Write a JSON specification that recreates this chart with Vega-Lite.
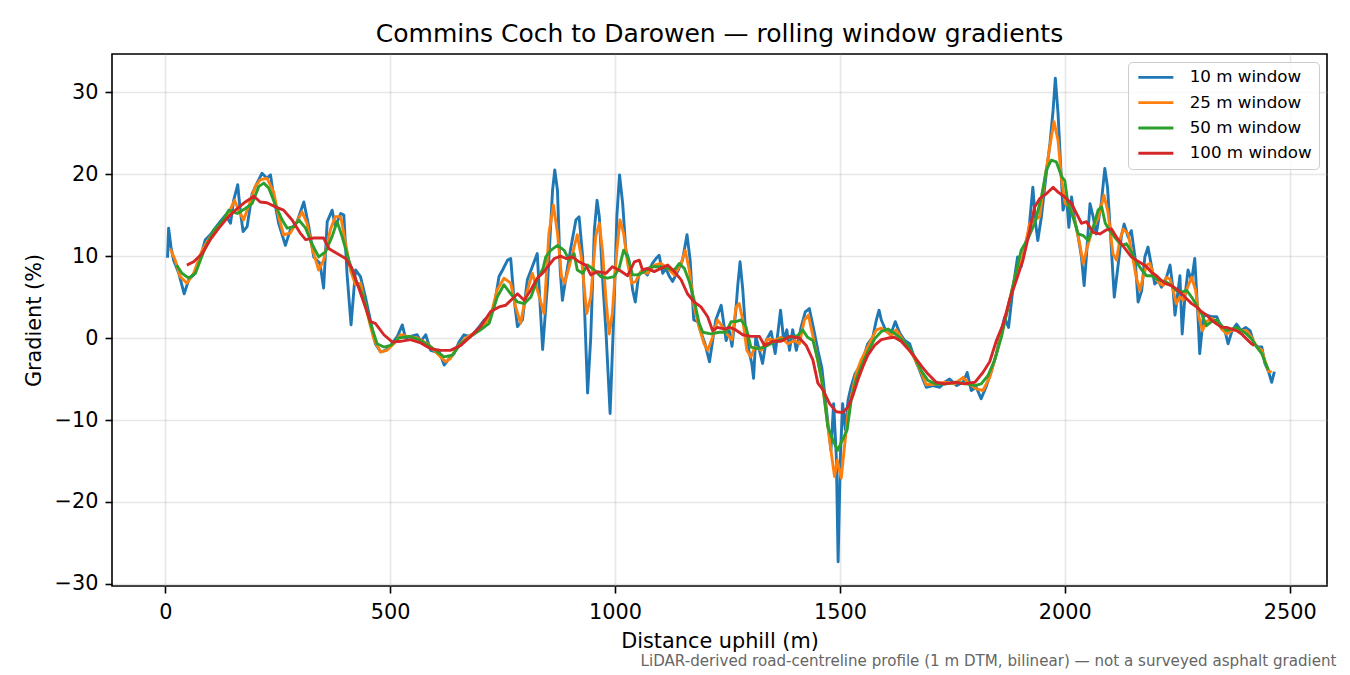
{
"$schema": "https://vega.github.io/schema/vega-lite/v6.json",
"width": 1215, "height": 532,
"autosize": {"type": "none"},
"padding": {"left": 112, "top": 54, "right": 23, "bottom": 89},
"background": "white",
"config": {
 "font": "DejaVu Sans",
 "view": {"stroke": "#000000", "strokeWidth": 1.6},
 "legend": {"orient": "top-right", "offset": 8, "symbolType": "M-1,0H6", "symbolSize": 100, "symbolStrokeWidth": 2.9, "labelFontSize": 16.7, "labelFont": "DejaVu Sans", "labelColor": "#000000", "labelOffset": 38, "rowPadding": 7.3, "padding": 7, "strokeColor": "#cccccc", "fillColor": "rgba(255,255,255,0.8)", "cornerRadius": 4}
},
"title": {"text": "Commins Coch to Darowen — rolling window gradients", "fontSize": 25, "fontWeight": "normal", "font": "DejaVu Sans", "color": "#000000", "anchor": "middle", "frame": "group", "baseline": "alphabetic", "offset": -13}
,
"data": {"values": [
{"w":"10 m window","d":5,"g":9.8},{"w":"10 m window","d":7.4,"g":13.4},{"w":"10 m window","d":12.6,"g":11.1},{"w":"10 m window","d":18.5,"g":9.5},{"w":"10 m window","d":30,"g":7.9},{"w":"10 m window","d":42,"g":5.4},{"w":"10 m window","d":52,"g":7.1},{"w":"10 m window","d":63,"g":7.7},{"w":"10 m window","d":74,"g":9.1},{"w":"10 m window","d":89,"g":12},{"w":"10 m window","d":100,"g":12.6},{"w":"10 m window","d":111,"g":13.4},{"w":"10 m window","d":122,"g":14.2},{"w":"10 m window","d":134,"g":15},{"w":"10 m window","d":145,"g":14},{"w":"10 m window","d":152,"g":16.8},{"w":"10 m window","d":161,"g":18.7},{"w":"10 m window","d":167,"g":15.4},{"w":"10 m window","d":173,"g":13},{"w":"10 m window","d":182,"g":13.6},{"w":"10 m window","d":193,"g":17.6},{"w":"10 m window","d":204,"g":18.9},{"w":"10 m window","d":215,"g":20.1},{"w":"10 m window","d":226,"g":19.5},{"w":"10 m window","d":234,"g":19.9},{"w":"10 m window","d":241,"g":17.2},{"w":"10 m window","d":252,"g":14},{"w":"10 m window","d":267,"g":11.3},{"w":"10 m window","d":278,"g":13.2},{"w":"10 m window","d":293,"g":14.2},{"w":"10 m window","d":308,"g":16.6},{"w":"10 m window","d":319,"g":13.6},{"w":"10 m window","d":330,"g":9.9},{"w":"10 m window","d":344,"g":9.1},{"w":"10 m window","d":352,"g":6.1},{"w":"10 m window","d":360,"g":14.2},{"w":"10 m window","d":371,"g":15.6},{"w":"10 m window","d":378,"g":13.6},{"w":"10 m window","d":390,"g":15.2},{"w":"10 m window","d":397,"g":15},{"w":"10 m window","d":404,"g":7.9},{"w":"10 m window","d":413,"g":1.6},{"w":"10 m window","d":423,"g":8.3},{"w":"10 m window","d":434,"g":7.5},{"w":"10 m window","d":445,"g":5},{"w":"10 m window","d":456,"g":2.2},{"w":"10 m window","d":467,"g":-0.7},{"w":"10 m window","d":479,"g":-1.7},{"w":"10 m window","d":490,"g":-1.5},{"w":"10 m window","d":501,"g":-0.9},{"w":"10 m window","d":516,"g":0.2},{"w":"10 m window","d":527,"g":1.6},{"w":"10 m window","d":534,"g":0},{"w":"10 m window","d":545,"g":0.2},{"w":"10 m window","d":560,"g":0.4},{"w":"10 m window","d":568,"g":-0.4},{"w":"10 m window","d":579,"g":0.4},{"w":"10 m window","d":590,"g":-1.5},{"w":"10 m window","d":601,"g":-1.7},{"w":"10 m window","d":608,"g":-1.5},{"w":"10 m window","d":620,"g":-3.3},{"w":"10 m window","d":631,"g":-2.5},{"w":"10 m window","d":642,"g":-1.9},{"w":"10 m window","d":653,"g":-0.5},{"w":"10 m window","d":664,"g":0.4},{"w":"10 m window","d":675,"g":0.2},{"w":"10 m window","d":686,"g":0.6},{"w":"10 m window","d":698,"g":1.4},{"w":"10 m window","d":709,"g":2.2},{"w":"10 m window","d":720,"g":2.6},{"w":"10 m window","d":731,"g":3.8},{"w":"10 m window","d":742,"g":7.5},{"w":"10 m window","d":750,"g":8.3},{"w":"10 m window","d":761,"g":9.5},{"w":"10 m window","d":768,"g":9.7},{"w":"10 m window","d":775,"g":5},{"w":"10 m window","d":783,"g":1.4},{"w":"10 m window","d":794,"g":2.2},{"w":"10 m window","d":805,"g":7.1},{"w":"10 m window","d":816,"g":8.7},{"w":"10 m window","d":827,"g":10.3},{"w":"10 m window","d":839,"g":-1.4},{"w":"10 m window","d":850,"g":6.7},{"w":"10 m window","d":861,"g":18},{"w":"10 m window","d":866,"g":20.5},{"w":"10 m window","d":872,"g":18},{"w":"10 m window","d":878,"g":8.3},{"w":"10 m window","d":883,"g":4.6},{"w":"10 m window","d":891,"g":7.5},{"w":"10 m window","d":902,"g":11.1},{"w":"10 m window","d":913,"g":14.4},{"w":"10 m window","d":920,"g":14.8},{"w":"10 m window","d":928,"g":9.9},{"w":"10 m window","d":939,"g":-6.7},{"w":"10 m window","d":946,"g":0.1},{"w":"10 m window","d":954,"g":13.2},{"w":"10 m window","d":960,"g":16.8},{"w":"10 m window","d":965,"g":14.8},{"w":"10 m window","d":972,"g":7.5},{"w":"10 m window","d":980,"g":0.6},{"w":"10 m window","d":989,"g":-9.2},{"w":"10 m window","d":997,"g":2.6},{"w":"10 m window","d":1004,"g":14.8},{"w":"10 m window","d":1010,"g":19.9},{"w":"10 m window","d":1017,"g":16.4},{"w":"10 m window","d":1024,"g":10.7},{"w":"10 m window","d":1031,"g":9.5},{"w":"10 m window","d":1039,"g":5.9},{"w":"10 m window","d":1045,"g":4.4},{"w":"10 m window","d":1052,"g":7.5},{"w":"10 m window","d":1061,"g":8.3},{"w":"10 m window","d":1072,"g":7.7},{"w":"10 m window","d":1083,"g":9.1},{"w":"10 m window","d":1091,"g":9.7},{"w":"10 m window","d":1098,"g":10.1},{"w":"10 m window","d":1106,"g":7.9},{"w":"10 m window","d":1113,"g":8.5},{"w":"10 m window","d":1121,"g":7.5},{"w":"10 m window","d":1128,"g":6.9},{"w":"10 m window","d":1139,"g":8.1},{"w":"10 m window","d":1150,"g":9.5},{"w":"10 m window","d":1160,"g":12.6},{"w":"10 m window","d":1167,"g":9.5},{"w":"10 m window","d":1175,"g":2.2},{"w":"10 m window","d":1184,"g":2},{"w":"10 m window","d":1191,"g":0.7},{"w":"10 m window","d":1200,"g":-0.7},{"w":"10 m window","d":1210,"g":-2.9},{"w":"10 m window","d":1217,"g":-0.3},{"w":"10 m window","d":1224,"g":2.2},{"w":"10 m window","d":1236,"g":4},{"w":"10 m window","d":1247,"g":-0.3},{"w":"10 m window","d":1254,"g":0.9},{"w":"10 m window","d":1260,"g":-1},{"w":"10 m window","d":1268,"g":3},{"w":"10 m window","d":1273,"g":6.5},{"w":"10 m window","d":1278,"g":9.3},{"w":"10 m window","d":1284,"g":5.9},{"w":"10 m window","d":1291,"g":0.2},{"w":"10 m window","d":1299,"g":-1.9},{"w":"10 m window","d":1304,"g":-3.1},{"w":"10 m window","d":1308,"g":-4.9},{"w":"10 m window","d":1313,"g":0.2},{"w":"10 m window","d":1321,"g":-1.5},{"w":"10 m window","d":1328,"g":-3.1},{"w":"10 m window","d":1336,"g":-0.3},{"w":"10 m window","d":1347,"g":0.8},{"w":"10 m window","d":1356,"g":-1.9},{"w":"10 m window","d":1362,"g":0.6},{"w":"10 m window","d":1368,"g":3.4},{"w":"10 m window","d":1375,"g":-0.3},{"w":"10 m window","d":1382,"g":1},{"w":"10 m window","d":1388,"g":-1.5},{"w":"10 m window","d":1395,"g":1},{"w":"10 m window","d":1403,"g":-1.5},{"w":"10 m window","d":1414,"g":1.4},{"w":"10 m window","d":1423,"g":3.2},{"w":"10 m window","d":1432,"g":3.6},{"w":"10 m window","d":1442,"g":1},{"w":"10 m window","d":1451,"g":-1.5},{"w":"10 m window","d":1460,"g":-3.7},{"w":"10 m window","d":1467,"g":-7.2},{"w":"10 m window","d":1475,"g":-11.2},{"w":"10 m window","d":1480,"g":-13.7},{"w":"10 m window","d":1486,"g":-8},{"w":"10 m window","d":1492,"g":-14.5},{"w":"10 m window","d":1496,"g":-27.3},{"w":"10 m window","d":1501,"g":-14.5},{"w":"10 m window","d":1506,"g":-8},{"w":"10 m window","d":1512,"g":-11.2},{"w":"10 m window","d":1518,"g":-7.6},{"w":"10 m window","d":1525,"g":-5.9},{"w":"10 m window","d":1534,"g":-4.3},{"w":"10 m window","d":1544,"g":-3.5},{"w":"10 m window","d":1555,"g":-1.9},{"w":"10 m window","d":1562,"g":-0.7},{"w":"10 m window","d":1573,"g":0.1},{"w":"10 m window","d":1581,"g":2.2},{"w":"10 m window","d":1587,"g":3.4},{"w":"10 m window","d":1592,"g":2.2},{"w":"10 m window","d":1603,"g":0.8},{"w":"10 m window","d":1614,"g":0.6},{"w":"10 m window","d":1623,"g":2},{"w":"10 m window","d":1633,"g":0.6},{"w":"10 m window","d":1644,"g":-0.3},{"w":"10 m window","d":1655,"g":-0.7},{"w":"10 m window","d":1666,"g":-2.5},{"w":"10 m window","d":1677,"g":-3.9},{"w":"10 m window","d":1686,"g":-5.2},{"w":"10 m window","d":1692,"g":-6},{"w":"10 m window","d":1707,"g":-5.8},{"w":"10 m window","d":1722,"g":-6},{"w":"10 m window","d":1733,"g":-5.4},{"w":"10 m window","d":1744,"g":-5},{"w":"10 m window","d":1759,"g":-5.8},{"w":"10 m window","d":1774,"g":-5.4},{"w":"10 m window","d":1783,"g":-4.2},{"w":"10 m window","d":1792,"g":-6.4},{"w":"10 m window","d":1803,"g":-6},{"w":"10 m window","d":1814,"g":-7.4},{"w":"10 m window","d":1826,"g":-5.8},{"w":"10 m window","d":1837,"g":-4},{"w":"10 m window","d":1848,"g":-1.9},{"w":"10 m window","d":1859,"g":0.9},{"w":"10 m window","d":1866,"g":2.5},{"w":"10 m window","d":1875,"g":1.3},{"w":"10 m window","d":1885,"g":6.2},{"w":"10 m window","d":1895,"g":9.9},{"w":"10 m window","d":1903,"g":8.7},{"w":"10 m window","d":1911,"g":11.1},{"w":"10 m window","d":1920,"g":13.1},{"w":"10 m window","d":1929,"g":18.4},{"w":"10 m window","d":1935,"g":14},{"w":"10 m window","d":1940,"g":11.9},{"w":"10 m window","d":1948,"g":14.8},{"w":"10 m window","d":1957,"g":19.2},{"w":"10 m window","d":1967,"g":23.7},{"w":"10 m window","d":1974,"g":27.8},{"w":"10 m window","d":1979,"g":31.7},{"w":"10 m window","d":1985,"g":27.4},{"w":"10 m window","d":1991,"g":20.9},{"w":"10 m window","d":1996,"g":15.6},{"w":"10 m window","d":2004,"g":17.2},{"w":"10 m window","d":2009,"g":13.5},{"w":"10 m window","d":2015,"g":17.2},{"w":"10 m window","d":2022,"g":14.4},{"w":"10 m window","d":2030,"g":12.3},{"w":"10 m window","d":2037,"g":9.9},{"w":"10 m window","d":2043,"g":6.4},{"w":"10 m window","d":2048,"g":9.9},{"w":"10 m window","d":2056,"g":16.4},{"w":"10 m window","d":2063,"g":14.8},{"w":"10 m window","d":2070,"g":12.7},{"w":"10 m window","d":2081,"g":16.4},{"w":"10 m window","d":2089,"g":20.7},{"w":"10 m window","d":2095,"g":18.4},{"w":"10 m window","d":2102,"g":12.3},{"w":"10 m window","d":2110,"g":5},{"w":"10 m window","d":2119,"g":9.1},{"w":"10 m window","d":2126,"g":12.5},{"w":"10 m window","d":2132,"g":13.9},{"w":"10 m window","d":2141,"g":12.3},{"w":"10 m window","d":2148,"g":13.1},{"w":"10 m window","d":2156,"g":9.9},{"w":"10 m window","d":2163,"g":4.4},{"w":"10 m window","d":2171,"g":5.8},{"w":"10 m window","d":2178,"g":9.9},{"w":"10 m window","d":2185,"g":11.1},{"w":"10 m window","d":2193,"g":8.7},{"w":"10 m window","d":2200,"g":6.6},{"w":"10 m window","d":2208,"g":7},{"w":"10 m window","d":2215,"g":6.2},{"w":"10 m window","d":2226,"g":7.4},{"w":"10 m window","d":2234,"g":8.9},{"w":"10 m window","d":2241,"g":5.8},{"w":"10 m window","d":2245,"g":2.8},{"w":"10 m window","d":2251,"g":5.4},{"w":"10 m window","d":2256,"g":7.6},{"w":"10 m window","d":2261,"g":0.5},{"w":"10 m window","d":2267,"g":5},{"w":"10 m window","d":2274,"g":8.3},{"w":"10 m window","d":2282,"g":7},{"w":"10 m window","d":2289,"g":9.7},{"w":"10 m window","d":2297,"g":1.7},{"w":"10 m window","d":2300,"g":-1.9},{"w":"10 m window","d":2308,"g":2.6},{"w":"10 m window","d":2315,"g":2.8},{"w":"10 m window","d":2326,"g":2.6},{"w":"10 m window","d":2338,"g":2.6},{"w":"10 m window","d":2349,"g":1.1},{"w":"10 m window","d":2356,"g":0.9},{"w":"10 m window","d":2363,"g":-0.7},{"w":"10 m window","d":2372,"g":0.9},{"w":"10 m window","d":2382,"g":1.7},{"w":"10 m window","d":2392,"g":0.9},{"w":"10 m window","d":2402,"g":1.3},{"w":"10 m window","d":2412,"g":0.9},{"w":"10 m window","d":2421,"g":-0.7},{"w":"10 m window","d":2430,"g":-1.1},{"w":"10 m window","d":2438,"g":-1.1},{"w":"10 m window","d":2445,"g":-3.1},{"w":"10 m window","d":2453,"g":-4.1},{"w":"10 m window","d":2460,"g":-5.4},{"w":"10 m window","d":2466,"g":-4.1},
{"w":"25 m window","d":11,"g":10.9},{"w":"25 m window","d":22,"g":9.5},{"w":"25 m window","d":33,"g":7.5},{"w":"25 m window","d":48,"g":6.7},{"w":"25 m window","d":63,"g":7.9},{"w":"25 m window","d":82,"g":10.7},{"w":"25 m window","d":100,"g":12.4},{"w":"25 m window","d":119,"g":13.6},{"w":"25 m window","d":137,"g":14.8},{"w":"25 m window","d":154,"g":16.8},{"w":"25 m window","d":163,"g":15.6},{"w":"25 m window","d":174,"g":14.4},{"w":"25 m window","d":186,"g":16.2},{"w":"25 m window","d":200,"g":18.5},{"w":"25 m window","d":211,"g":19.3},{"w":"25 m window","d":226,"g":19.5},{"w":"25 m window","d":241,"g":17.8},{"w":"25 m window","d":252,"g":14.8},{"w":"25 m window","d":263,"g":12.6},{"w":"25 m window","d":278,"g":12.8},{"w":"25 m window","d":293,"g":14.2},{"w":"25 m window","d":304,"g":15.4},{"w":"25 m window","d":315,"g":14},{"w":"25 m window","d":326,"g":11.1},{"w":"25 m window","d":341,"g":8.3},{"w":"25 m window","d":352,"g":9.5},{"w":"25 m window","d":367,"g":13.2},{"w":"25 m window","d":378,"g":14.8},{"w":"25 m window","d":390,"g":14.8},{"w":"25 m window","d":401,"g":11.5},{"w":"25 m window","d":412,"g":8.2},{"w":"25 m window","d":423,"g":6.5},{"w":"25 m window","d":434,"g":6.7},{"w":"25 m window","d":449,"g":3},{"w":"25 m window","d":464,"g":-0.2},{"w":"25 m window","d":479,"g":-1.7},{"w":"25 m window","d":493,"g":-1.5},{"w":"25 m window","d":508,"g":-0.7},{"w":"25 m window","d":523,"g":0.4},{"w":"25 m window","d":538,"g":0.2},{"w":"25 m window","d":560,"g":0},{"w":"25 m window","d":583,"g":-0.7},{"w":"25 m window","d":605,"g":-1.9},{"w":"25 m window","d":623,"g":-2.9},{"w":"25 m window","d":634,"g":-2.5},{"w":"25 m window","d":649,"g":-1.1},{"w":"25 m window","d":668,"g":0},{"w":"25 m window","d":686,"g":0.6},{"w":"25 m window","d":705,"g":1.4},{"w":"25 m window","d":723,"g":2.6},{"w":"25 m window","d":738,"g":5.9},{"w":"25 m window","d":753,"g":7.3},{"w":"25 m window","d":768,"g":6.7},{"w":"25 m window","d":779,"g":3.8},{"w":"25 m window","d":790,"g":1.8},{"w":"25 m window","d":801,"g":5},{"w":"25 m window","d":816,"g":7.9},{"w":"25 m window","d":827,"g":5.9},{"w":"25 m window","d":842,"g":3},{"w":"25 m window","d":853,"g":12.8},{"w":"25 m window","d":863,"g":16.2},{"w":"25 m window","d":872,"g":12.8},{"w":"25 m window","d":881,"g":7.5},{"w":"25 m window","d":888,"g":6.7},{"w":"25 m window","d":898,"g":8.7},{"w":"25 m window","d":909,"g":11.1},{"w":"25 m window","d":916,"g":12.6},{"w":"25 m window","d":925,"g":9.9},{"w":"25 m window","d":937,"g":3},{"w":"25 m window","d":946,"g":5},{"w":"25 m window","d":957,"g":12.4},{"w":"25 m window","d":965,"g":14},{"w":"25 m window","d":972,"g":10.7},{"w":"25 m window","d":980,"g":4.6},{"w":"25 m window","d":987,"g":0.5},{"w":"25 m window","d":994,"g":3},{"w":"25 m window","d":1004,"g":10.7},{"w":"25 m window","d":1011,"g":14.4},{"w":"25 m window","d":1019,"g":12.8},{"w":"25 m window","d":1028,"g":9.1},{"w":"25 m window","d":1037,"g":6.7},{"w":"25 m window","d":1046,"g":6.9},{"w":"25 m window","d":1057,"g":8.1},{"w":"25 m window","d":1072,"g":7.9},{"w":"25 m window","d":1087,"g":8.9},{"w":"25 m window","d":1102,"g":9.1},{"w":"25 m window","d":1117,"g":8.5},{"w":"25 m window","d":1132,"g":7.7},{"w":"25 m window","d":1147,"g":9.1},{"w":"25 m window","d":1156,"g":10.7},{"w":"25 m window","d":1165,"g":8.3},{"w":"25 m window","d":1176,"g":3.8},{"w":"25 m window","d":1187,"g":1.3},{"w":"25 m window","d":1198,"g":-0.7},{"w":"25 m window","d":1206,"g":-1.5},{"w":"25 m window","d":1217,"g":0.1},{"w":"25 m window","d":1228,"g":2.2},{"w":"25 m window","d":1239,"g":1.4},{"w":"25 m window","d":1250,"g":0.4},{"w":"25 m window","d":1260,"g":-0.2},{"w":"25 m window","d":1269,"g":3.8},{"w":"25 m window","d":1276,"g":4.2},{"w":"25 m window","d":1284,"g":2.2},{"w":"25 m window","d":1293,"g":-1.5},{"w":"25 m window","d":1302,"g":-2.3},{"w":"25 m window","d":1311,"g":-1.1},{"w":"25 m window","d":1325,"g":-1.5},{"w":"25 m window","d":1339,"g":-0.1},{"w":"25 m window","d":1354,"g":-0.3},{"w":"25 m window","d":1369,"g":0.1},{"w":"25 m window","d":1384,"g":-0.7},{"w":"25 m window","d":1399,"g":-0.3},{"w":"25 m window","d":1410,"g":-0.7},{"w":"25 m window","d":1421,"g":2.2},{"w":"25 m window","d":1430,"g":2.8},{"w":"25 m window","d":1440,"g":0.2},{"w":"25 m window","d":1449,"g":-2.3},{"w":"25 m window","d":1458,"g":-4.7},{"w":"25 m window","d":1467,"g":-8},{"w":"25 m window","d":1475,"g":-11.6},{"w":"25 m window","d":1482,"g":-14.5},{"w":"25 m window","d":1488,"g":-16.9},{"w":"25 m window","d":1494,"g":-14.9},{"w":"25 m window","d":1503,"g":-17.1},{"w":"25 m window","d":1510,"g":-13.3},{"w":"25 m window","d":1518,"g":-9.2},{"w":"25 m window","d":1525,"g":-7.2},{"w":"25 m window","d":1536,"g":-4.3},{"w":"25 m window","d":1547,"g":-2.7},{"w":"25 m window","d":1558,"g":-1.5},{"w":"25 m window","d":1570,"g":-0.2},{"w":"25 m window","d":1581,"g":1},{"w":"25 m window","d":1592,"g":1.2},{"w":"25 m window","d":1603,"g":0.8},{"w":"25 m window","d":1614,"g":0.3},{"w":"25 m window","d":1625,"g":1},{"w":"25 m window","d":1636,"g":0.1},{"w":"25 m window","d":1651,"g":-1.1},{"w":"25 m window","d":1666,"g":-2.5},{"w":"25 m window","d":1681,"g":-4.2},{"w":"25 m window","d":1692,"g":-5.7},{"w":"25 m window","d":1714,"g":-5.6},{"w":"25 m window","d":1733,"g":-5.4},{"w":"25 m window","d":1755,"g":-5.6},{"w":"25 m window","d":1774,"g":-4.8},{"w":"25 m window","d":1788,"g":-5.6},{"w":"25 m window","d":1803,"g":-6.2},{"w":"25 m window","d":1818,"g":-6.4},{"w":"25 m window","d":1833,"g":-4.8},{"w":"25 m window","d":1848,"g":-1.9},{"w":"25 m window","d":1863,"g":1.3},{"w":"25 m window","d":1877,"g":4.6},{"w":"25 m window","d":1892,"g":8},{"w":"25 m window","d":1907,"g":9.9},{"w":"25 m window","d":1922,"g":14},{"w":"25 m window","d":1933,"g":14.4},{"w":"25 m window","d":1944,"g":14.8},{"w":"25 m window","d":1955,"g":19.2},{"w":"25 m window","d":1967,"g":23.5},{"w":"25 m window","d":1976,"g":26.4},{"w":"25 m window","d":1985,"g":24.1},{"w":"25 m window","d":1993,"g":19.2},{"w":"25 m window","d":2001,"g":16.4},{"w":"25 m window","d":2011,"g":16},{"w":"25 m window","d":2022,"g":14.4},{"w":"25 m window","d":2033,"g":11.5},{"w":"25 m window","d":2041,"g":9.1},{"w":"25 m window","d":2052,"g":11.5},{"w":"25 m window","d":2063,"g":13.5},{"w":"25 m window","d":2074,"g":14.6},{"w":"25 m window","d":2087,"g":17.4},{"w":"25 m window","d":2096,"g":15.4},{"w":"25 m window","d":2107,"g":10.3},{"w":"25 m window","d":2115,"g":9.5},{"w":"25 m window","d":2122,"g":11.9},{"w":"25 m window","d":2130,"g":13.3},{"w":"25 m window","d":2141,"g":12.7},{"w":"25 m window","d":2148,"g":10.7},{"w":"25 m window","d":2159,"g":7.4},{"w":"25 m window","d":2167,"g":5.8},{"w":"25 m window","d":2174,"g":7.4},{"w":"25 m window","d":2182,"g":8.9},{"w":"25 m window","d":2189,"g":9.1},{"w":"25 m window","d":2197,"g":7.8},{"w":"25 m window","d":2208,"g":6.8},{"w":"25 m window","d":2219,"g":6.4},{"w":"25 m window","d":2226,"g":7.4},{"w":"25 m window","d":2234,"g":7.2},{"w":"25 m window","d":2241,"g":5.8},{"w":"25 m window","d":2248,"g":4.2},{"w":"25 m window","d":2256,"g":5},{"w":"25 m window","d":2263,"g":4.6},{"w":"25 m window","d":2273,"g":6.2},{"w":"25 m window","d":2282,"g":7.4},{"w":"25 m window","d":2291,"g":5.8},{"w":"25 m window","d":2298,"g":2.6},{"w":"25 m window","d":2306,"g":0.9},{"w":"25 m window","d":2315,"g":2},{"w":"25 m window","d":2326,"g":2.4},{"w":"25 m window","d":2338,"g":2},{"w":"25 m window","d":2349,"g":1.1},{"w":"25 m window","d":2360,"g":0.5},{"w":"25 m window","d":2371,"g":0.9},{"w":"25 m window","d":2382,"g":1.1},{"w":"25 m window","d":2393,"g":0.9},{"w":"25 m window","d":2404,"g":0.9},{"w":"25 m window","d":2415,"g":0.1},{"w":"25 m window","d":2427,"g":-1.1},{"w":"25 m window","d":2438,"g":-1.5},{"w":"25 m window","d":2447,"g":-3.1},{"w":"25 m window","d":2453,"g":-4.1},{"w":"25 m window","d":2460,"g":-4.1},
{"w":"50 m window","d":25,"g":8.9},{"w":"50 m window","d":37,"g":7.9},{"w":"50 m window","d":52,"g":7.3},{"w":"50 m window","d":67,"g":7.9},{"w":"50 m window","d":85,"g":10.5},{"w":"50 m window","d":108,"g":13.2},{"w":"50 m window","d":126,"g":14.2},{"w":"50 m window","d":141,"g":15.6},{"w":"50 m window","d":160,"g":15.2},{"w":"50 m window","d":178,"g":15.8},{"w":"50 m window","d":193,"g":16.4},{"w":"50 m window","d":208,"g":18.5},{"w":"50 m window","d":219,"g":18.9},{"w":"50 m window","d":230,"g":18.3},{"w":"50 m window","d":245,"g":16.2},{"w":"50 m window","d":260,"g":14.4},{"w":"50 m window","d":271,"g":13.4},{"w":"50 m window","d":286,"g":13.6},{"w":"50 m window","d":297,"g":14.4},{"w":"50 m window","d":312,"g":13.4},{"w":"50 m window","d":326,"g":11.5},{"w":"50 m window","d":341,"g":9.9},{"w":"50 m window","d":356,"g":10.5},{"w":"50 m window","d":371,"g":12.4},{"w":"50 m window","d":382,"g":14.2},{"w":"50 m window","d":393,"g":12.4},{"w":"50 m window","d":408,"g":9.5},{"w":"50 m window","d":423,"g":7.1},{"w":"50 m window","d":441,"g":5},{"w":"50 m window","d":456,"g":1.8},{"w":"50 m window","d":471,"g":-0.7},{"w":"50 m window","d":486,"g":-1.1},{"w":"50 m window","d":501,"g":-0.9},{"w":"50 m window","d":519,"g":0},{"w":"50 m window","d":542,"g":0.2},{"w":"50 m window","d":564,"g":-0.2},{"w":"50 m window","d":586,"g":-0.9},{"w":"50 m window","d":605,"g":-1.7},{"w":"50 m window","d":620,"g":-2.3},{"w":"50 m window","d":638,"g":-2.1},{"w":"50 m window","d":657,"g":-0.7},{"w":"50 m window","d":679,"g":0.2},{"w":"50 m window","d":701,"g":1},{"w":"50 m window","d":720,"g":1.8},{"w":"50 m window","d":738,"g":5},{"w":"50 m window","d":753,"g":6.5},{"w":"50 m window","d":768,"g":5.4},{"w":"50 m window","d":783,"g":4.4},{"w":"50 m window","d":798,"g":4.2},{"w":"50 m window","d":813,"g":5},{"w":"50 m window","d":827,"g":7.1},{"w":"50 m window","d":840,"g":8.5},{"w":"50 m window","d":846,"g":9.9},{"w":"50 m window","d":857,"g":10.7},{"w":"50 m window","d":872,"g":11.3},{"w":"50 m window","d":887,"g":10.7},{"w":"50 m window","d":898,"g":9.5},{"w":"50 m window","d":909,"g":10.3},{"w":"50 m window","d":916,"g":8.3},{"w":"50 m window","d":928,"g":7.9},{"w":"50 m window","d":939,"g":8.9},{"w":"50 m window","d":954,"g":8.3},{"w":"50 m window","d":968,"g":7.5},{"w":"50 m window","d":983,"g":7.3},{"w":"50 m window","d":998,"g":7.5},{"w":"50 m window","d":1009,"g":8.5},{"w":"50 m window","d":1019,"g":10.7},{"w":"50 m window","d":1028,"g":9.9},{"w":"50 m window","d":1039,"g":7.7},{"w":"50 m window","d":1050,"g":7.7},{"w":"50 m window","d":1065,"g":8.1},{"w":"50 m window","d":1080,"g":8.7},{"w":"50 m window","d":1098,"g":8.7},{"w":"50 m window","d":1117,"g":8.5},{"w":"50 m window","d":1132,"g":8.3},{"w":"50 m window","d":1143,"g":9.1},{"w":"50 m window","d":1154,"g":8.5},{"w":"50 m window","d":1165,"g":6.9},{"w":"50 m window","d":1176,"g":4.6},{"w":"50 m window","d":1187,"g":1.8},{"w":"50 m window","d":1195,"g":0.7},{"w":"50 m window","d":1213,"g":0.5},{"w":"50 m window","d":1232,"g":0.7},{"w":"50 m window","d":1247,"g":0.7},{"w":"50 m window","d":1258,"g":2},{"w":"50 m window","d":1269,"g":2},{"w":"50 m window","d":1280,"g":2.2},{"w":"50 m window","d":1291,"g":1.4},{"w":"50 m window","d":1302,"g":-1.1},{"w":"50 m window","d":1317,"g":-1.3},{"w":"50 m window","d":1332,"g":-1.1},{"w":"50 m window","d":1347,"g":-0.7},{"w":"50 m window","d":1362,"g":-0.3},{"w":"50 m window","d":1377,"g":-0.1},{"w":"50 m window","d":1391,"g":0.1},{"w":"50 m window","d":1406,"g":0.3},{"w":"50 m window","d":1417,"g":1},{"w":"50 m window","d":1428,"g":0.1},{"w":"50 m window","d":1440,"g":-0.3},{"w":"50 m window","d":1451,"g":-2.7},{"w":"50 m window","d":1462,"g":-5.9},{"w":"50 m window","d":1473,"g":-10.8},{"w":"50 m window","d":1484,"g":-12.4},{"w":"50 m window","d":1495,"g":-13.7},{"w":"50 m window","d":1506,"g":-12.4},{"w":"50 m window","d":1516,"g":-11.2},{"w":"50 m window","d":1525,"g":-7.6},{"w":"50 m window","d":1536,"g":-5.1},{"w":"50 m window","d":1547,"g":-3.5},{"w":"50 m window","d":1562,"g":-1.7},{"w":"50 m window","d":1577,"g":-0.1},{"w":"50 m window","d":1592,"g":0.8},{"w":"50 m window","d":1607,"g":1.1},{"w":"50 m window","d":1621,"g":0.6},{"w":"50 m window","d":1636,"g":-0.1},{"w":"50 m window","d":1651,"g":-0.9},{"w":"50 m window","d":1666,"g":-2.3},{"w":"50 m window","d":1681,"g":-4},{"w":"50 m window","d":1696,"g":-5.2},{"w":"50 m window","d":1714,"g":-5.6},{"w":"50 m window","d":1736,"g":-5.6},{"w":"50 m window","d":1759,"g":-5.4},{"w":"50 m window","d":1781,"g":-5.6},{"w":"50 m window","d":1800,"g":-5.8},{"w":"50 m window","d":1814,"g":-5.6},{"w":"50 m window","d":1829,"g":-4.6},{"w":"50 m window","d":1844,"g":-2.7},{"w":"50 m window","d":1859,"g":0.1},{"w":"50 m window","d":1874,"g":3.8},{"w":"50 m window","d":1889,"g":7.4},{"w":"50 m window","d":1903,"g":10.7},{"w":"50 m window","d":1918,"g":12.1},{"w":"50 m window","d":1933,"g":14},{"w":"50 m window","d":1948,"g":17.2},{"w":"50 m window","d":1959,"g":20.5},{"w":"50 m window","d":1970,"g":21.7},{"w":"50 m window","d":1981,"g":21.5},{"w":"50 m window","d":1993,"g":19.7},{"w":"50 m window","d":2000,"g":19.2},{"w":"50 m window","d":2007,"g":16.4},{"w":"50 m window","d":2018,"g":14.8},{"w":"50 m window","d":2030,"g":12.7},{"w":"50 m window","d":2041,"g":12.5},{"w":"50 m window","d":2052,"g":11.9},{"w":"50 m window","d":2063,"g":13.5},{"w":"50 m window","d":2074,"g":15.6},{"w":"50 m window","d":2082,"g":16},{"w":"50 m window","d":2090,"g":14},{"w":"50 m window","d":2100,"g":13.1},{"w":"50 m window","d":2111,"g":12.3},{"w":"50 m window","d":2126,"g":11.3},{"w":"50 m window","d":2137,"g":11.5},{"w":"50 m window","d":2148,"g":10.5},{"w":"50 m window","d":2159,"g":9.3},{"w":"50 m window","d":2171,"g":8.3},{"w":"50 m window","d":2182,"g":7.6},{"w":"50 m window","d":2193,"g":7.6},{"w":"50 m window","d":2204,"g":7.2},{"w":"50 m window","d":2215,"g":7},{"w":"50 m window","d":2226,"g":6.8},{"w":"50 m window","d":2237,"g":6.4},{"w":"50 m window","d":2248,"g":5.8},{"w":"50 m window","d":2260,"g":5.6},{"w":"50 m window","d":2271,"g":5.8},{"w":"50 m window","d":2282,"g":5},{"w":"50 m window","d":2293,"g":4},{"w":"50 m window","d":2304,"g":3},{"w":"50 m window","d":2315,"g":1.5},{"w":"50 m window","d":2326,"g":2},{"w":"50 m window","d":2338,"g":2.2},{"w":"50 m window","d":2349,"g":1.5},{"w":"50 m window","d":2360,"g":0.9},{"w":"50 m window","d":2371,"g":1.1},{"w":"50 m window","d":2382,"g":1.3},{"w":"50 m window","d":2393,"g":0.9},{"w":"50 m window","d":2404,"g":0.5},{"w":"50 m window","d":2415,"g":-0.1},{"w":"50 m window","d":2427,"g":-1.1},{"w":"50 m window","d":2438,"g":-1.9},{"w":"50 m window","d":2445,"g":-2.9},{"w":"50 m window","d":2453,"g":-3.9},
{"w":"100 m window","d":48,"g":8.9},{"w":"100 m window","d":63,"g":9.3},{"w":"100 m window","d":82,"g":10.3},{"w":"100 m window","d":100,"g":12},{"w":"100 m window","d":119,"g":13.4},{"w":"100 m window","d":137,"g":14.6},{"w":"100 m window","d":156,"g":15.6},{"w":"100 m window","d":178,"g":16.6},{"w":"100 m window","d":197,"g":17.3},{"w":"100 m window","d":211,"g":16.6},{"w":"100 m window","d":226,"g":16.5},{"w":"100 m window","d":245,"g":16},{"w":"100 m window","d":263,"g":15.6},{"w":"100 m window","d":282,"g":14.4},{"w":"100 m window","d":300,"g":12.8},{"w":"100 m window","d":312,"g":12},{"w":"100 m window","d":330,"g":12.2},{"w":"100 m window","d":352,"g":12.2},{"w":"100 m window","d":364,"g":10.9},{"w":"100 m window","d":382,"g":10.3},{"w":"100 m window","d":401,"g":9.7},{"w":"100 m window","d":415,"g":8.5},{"w":"100 m window","d":434,"g":5.5},{"w":"100 m window","d":456,"g":2},{"w":"100 m window","d":467,"g":1.8},{"w":"100 m window","d":486,"g":0.4},{"w":"100 m window","d":505,"g":-0.5},{"w":"100 m window","d":523,"g":-0.4},{"w":"100 m window","d":545,"g":-0.2},{"w":"100 m window","d":568,"g":-0.6},{"w":"100 m window","d":590,"g":-1.3},{"w":"100 m window","d":612,"g":-1.5},{"w":"100 m window","d":634,"g":-1.5},{"w":"100 m window","d":657,"g":-0.9},{"w":"100 m window","d":679,"g":0.2},{"w":"100 m window","d":701,"g":1.4},{"w":"100 m window","d":723,"g":3.2},{"w":"100 m window","d":742,"g":3.8},{"w":"100 m window","d":757,"g":4},{"w":"100 m window","d":772,"g":4.8},{"w":"100 m window","d":783,"g":5.4},{"w":"100 m window","d":798,"g":4.6},{"w":"100 m window","d":813,"g":5.9},{"w":"100 m window","d":827,"g":7.3},{"w":"100 m window","d":842,"g":8.1},{"w":"100 m window","d":850,"g":8.7},{"w":"100 m window","d":865,"g":9.7},{"w":"100 m window","d":879,"g":10},{"w":"100 m window","d":891,"g":9.7},{"w":"100 m window","d":905,"g":9.9},{"w":"100 m window","d":920,"g":9.3},{"w":"100 m window","d":935,"g":8.9},{"w":"100 m window","d":946,"g":7.7},{"w":"100 m window","d":961,"g":8.1},{"w":"100 m window","d":980,"g":7.9},{"w":"100 m window","d":994,"g":8.7},{"w":"100 m window","d":1009,"g":8.3},{"w":"100 m window","d":1028,"g":7.6},{"w":"100 m window","d":1043,"g":9.3},{"w":"100 m window","d":1054,"g":9.5},{"w":"100 m window","d":1061,"g":8.3},{"w":"100 m window","d":1072,"g":8.5},{"w":"100 m window","d":1087,"g":8.1},{"w":"100 m window","d":1102,"g":8.5},{"w":"100 m window","d":1117,"g":8.9},{"w":"100 m window","d":1132,"g":8.1},{"w":"100 m window","d":1147,"g":7.1},{"w":"100 m window","d":1161,"g":5.4},{"w":"100 m window","d":1176,"g":4.4},{"w":"100 m window","d":1191,"g":3.8},{"w":"100 m window","d":1206,"g":2.6},{"w":"100 m window","d":1217,"g":0.9},{"w":"100 m window","d":1228,"g":1.3},{"w":"100 m window","d":1243,"g":1.1},{"w":"100 m window","d":1254,"g":1.3},{"w":"100 m window","d":1265,"g":1.1},{"w":"100 m window","d":1284,"g":0.4},{"w":"100 m window","d":1302,"g":0.2},{"w":"100 m window","d":1321,"g":0.2},{"w":"100 m window","d":1332,"g":-0.9},{"w":"100 m window","d":1351,"g":-0.4},{"w":"100 m window","d":1369,"g":-0.4},{"w":"100 m window","d":1388,"g":0.2},{"w":"100 m window","d":1410,"g":0},{"w":"100 m window","d":1425,"g":-0.9},{"w":"100 m window","d":1440,"g":-2.7},{"w":"100 m window","d":1451,"g":-5.5},{"w":"100 m window","d":1462,"g":-6.3},{"w":"100 m window","d":1477,"g":-8},{"w":"100 m window","d":1492,"g":-9},{"w":"100 m window","d":1506,"g":-9.1},{"w":"100 m window","d":1518,"g":-8.4},{"w":"100 m window","d":1529,"g":-7},{"w":"100 m window","d":1540,"g":-5.1},{"w":"100 m window","d":1551,"g":-3.5},{"w":"100 m window","d":1562,"g":-2.1},{"w":"100 m window","d":1577,"g":-0.9},{"w":"100 m window","d":1592,"g":-0.2},{"w":"100 m window","d":1607,"g":0},{"w":"100 m window","d":1621,"g":0.1},{"w":"100 m window","d":1636,"g":-0.4},{"w":"100 m window","d":1651,"g":-1.3},{"w":"100 m window","d":1666,"g":-2.3},{"w":"100 m window","d":1681,"g":-3.4},{"w":"100 m window","d":1696,"g":-4.4},{"w":"100 m window","d":1714,"g":-5.4},{"w":"100 m window","d":1733,"g":-5.6},{"w":"100 m window","d":1755,"g":-5.4},{"w":"100 m window","d":1777,"g":-5.6},{"w":"100 m window","d":1800,"g":-5.4},{"w":"100 m window","d":1818,"g":-4.2},{"w":"100 m window","d":1833,"g":-2.9},{"w":"100 m window","d":1848,"g":-0.3},{"w":"100 m window","d":1863,"g":1.7},{"w":"100 m window","d":1877,"g":4.6},{"w":"100 m window","d":1892,"g":7},{"w":"100 m window","d":1907,"g":9.5},{"w":"100 m window","d":1922,"g":13.1},{"w":"100 m window","d":1933,"g":16},{"w":"100 m window","d":1944,"g":17},{"w":"100 m window","d":1959,"g":17.6},{"w":"100 m window","d":1974,"g":18.4},{"w":"100 m window","d":1985,"g":17.8},{"w":"100 m window","d":2000,"g":17.2},{"w":"100 m window","d":2015,"g":16.4},{"w":"100 m window","d":2026,"g":15.2},{"w":"100 m window","d":2037,"g":14},{"w":"100 m window","d":2048,"g":14.2},{"w":"100 m window","d":2063,"g":12.9},{"w":"100 m window","d":2078,"g":12.7},{"w":"100 m window","d":2093,"g":13.2},{"w":"100 m window","d":2104,"g":13.3},{"w":"100 m window","d":2115,"g":12.3},{"w":"100 m window","d":2126,"g":11.5},{"w":"100 m window","d":2137,"g":10.7},{"w":"100 m window","d":2148,"g":9.9},{"w":"100 m window","d":2159,"g":9.5},{"w":"100 m window","d":2171,"g":9.1},{"w":"100 m window","d":2182,"g":8.7},{"w":"100 m window","d":2193,"g":8},{"w":"100 m window","d":2204,"g":7.6},{"w":"100 m window","d":2215,"g":7},{"w":"100 m window","d":2226,"g":6.6},{"w":"100 m window","d":2237,"g":6.4},{"w":"100 m window","d":2248,"g":6},{"w":"100 m window","d":2260,"g":5.4},{"w":"100 m window","d":2271,"g":4.8},{"w":"100 m window","d":2282,"g":4.2},{"w":"100 m window","d":2293,"g":3.8},{"w":"100 m window","d":2304,"g":3.2},{"w":"100 m window","d":2315,"g":2.8},{"w":"100 m window","d":2326,"g":2.2},{"w":"100 m window","d":2338,"g":1.7},{"w":"100 m window","d":2349,"g":1.3},{"w":"100 m window","d":2360,"g":1.3},{"w":"100 m window","d":2371,"g":1.1},{"w":"100 m window","d":2382,"g":0.9},{"w":"100 m window","d":2393,"g":0.5},{"w":"100 m window","d":2404,"g":-0.1},{"w":"100 m window","d":2415,"g":-0.7},{"w":"100 m window","d":2421,"g":-0.9}
]},
"encoding": {
 "y": {"field": "g", "type": "quantitative", "scale": {"domain": [-30.25, 34.65], "nice": false, "zero": false},
  "axis": {"values": [-30,-20,-10,0,10,20,30], "title": "Gradient (%)", "grid": true, "gridColor": "#b0b0b0", "gridOpacity": 0.3, "gridWidth": 1.6, "domain": false, "tickColor": "#000000", "tickWidth": 1.6, "tickSize": 7, "labelPadding": 7, "labelFontSize": 20.8, "labelColor": "#000000", "labelFont": "DejaVu Sans", "labelExpr": "replace(format(datum.value, 'd'), '-', '\u2212')", "titleFontSize": 20.8, "titleFontWeight": "normal", "titleColor": "#000000", "titleFont": "DejaVu Sans", "titleAngle": 270, "titleX": -72, "titleY": 266, "titleAlign": "center", "titleBaseline": "alphabetic"}},
 "color": {"field": "w", "type": "nominal", "scale": {"domain": ["10 m window", "25 m window", "50 m window", "100 m window"], "range": ["#1f77b4", "#ff7f0e", "#2ca02c", "#d62728"]}, "legend": {"title": null}}
},
"layer": [
 {"transform": [{"filter": {"field": "w", "oneOf": ["10 m window", "25 m window"]}}],
  "mark": {"type": "line", "strokeWidth": 2.9, "strokeJoin": "round"},
  "encoding": {"x": {"field": "d", "type": "quantitative", "scale": {"domain": [-118.5, 2583], "nice": false, "zero": false},
   "axis": {"orient": "bottom", "values": [0,500,1000,1500,2000,2500], "format": "d", "title": "Distance uphill (m)", "grid": true, "gridColor": "#b0b0b0", "gridOpacity": 0.3, "gridWidth": 1.6, "domain": false, "tickColor": "#000000", "tickWidth": 1.6, "tickSize": 7, "labelPadding": 9, "labelFontSize": 20.8, "labelColor": "#000000", "labelFont": "DejaVu Sans", "titleFontSize": 20.8, "titleFontWeight": "normal", "titleColor": "#000000", "titleFont": "DejaVu Sans", "titleX": 607.5, "titleY": 61, "titleAlign": "center", "titleBaseline": "alphabetic"}}}},
 {"transform": [{"filter": {"field": "w", "oneOf": ["50 m window", "100 m window"]}}],
  "mark": {"type": "line", "strokeWidth": 2.9, "strokeJoin": "round"},
  "encoding": {"x": {"field": "d", "type": "quantitative", "scale": {"domain": [-118.5, 2583], "nice": false, "zero": false},
   "axis": {"orient": "bottom", "title": "LiDAR-derived road-centreline profile (1 m DTM, bilinear) — not a surveyed asphalt gradient", "grid": false, "domain": false, "ticks": false, "labels": false, "titleFontSize": 15.1, "titleFontWeight": "normal", "titleColor": "#666666", "titleFont": "DejaVu Sans", "titleX": 1224, "titleY": 79, "titleAlign": "right", "titleBaseline": "alphabetic"}}}}
],
"resolve": {"axis": {"x": "independent"}}
}
